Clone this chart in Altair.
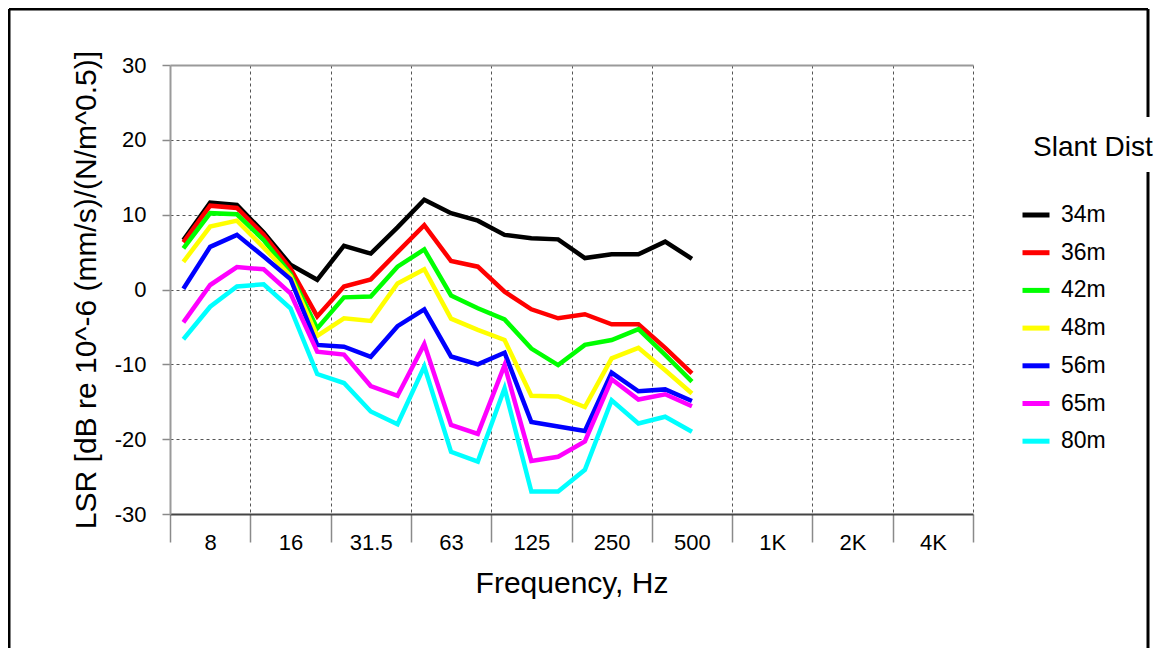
import altair as alt
import pandas as pd

# 1/3-octave band centres (Hz) that carry data
freqs = ["6.3", "8", "10", "12.5", "16", "20", "25", "31.5", "40", "50",
         "63", "80", "100", "125", "160", "200", "250", "315", "400", "500"]
# octave labels shown on the x axis
octave_labels = ["8", "16", "31.5", "63", "125", "250", "500", "1K", "2K", "4K"]

distances = ["34m", "36m", "42m", "48m", "56m", "65m", "80m"]
colors = ["#000000", "#ff0000", "#00ff00", "#ffff00", "#0000ff", "#ff00ff", "#00ffff"]

lsr_34 = [6.6, 11.6, 11.3, 7.6, 3.3, 1.3, 5.85, 4.8, 8.3, 12.0,
          10.2, 9.2, 7.3, 6.85, 6.7, 4.2, 4.7, 4.7, 6.4, 4.1]
lsr_36 = [6.3, 11.2, 10.9, 7.3, 2.8, -3.6, 0.4, 1.35, 5.0, 8.6,
          3.8, 3.05, -0.3, -2.65, -3.85, -3.3, -4.65, -4.65, -7.8, -11.2]
lsr_42 = [5.5, 10.2, 10.05, 6.6, 2.1, -5.2, -1.05, -0.95, 3.05, 5.35,
          -0.8, -2.5, -4.0, -7.9, -10.1, -7.4, -6.75, -5.3, -8.75, -12.3]
lsr_48 = [3.7, 8.4, 9.2, 5.6, 1.8, -6.2, -3.85, -4.2, 0.8, 2.7,
          -3.9, -5.4, -6.75, -14.2, -14.3, -15.7, -9.2, -7.8, -10.8, -13.9]
lsr_56 = [0.1, 5.7, 7.3, 4.4, 1.4, -7.4, -7.65, -9.0, -4.9, -2.65,
          -8.95, -10.0, -8.45, -17.7, -18.3, -18.9, -11.1, -13.6, -13.35, -14.9]
lsr_65 = [-4.4, 0.6, 3.0, 2.7, -0.5, -8.3, -8.7, -12.9, -14.2, -7.3,
          -18.1, -19.3, -10.1, -22.9, -22.35, -20.3, -12.0, -14.7, -14.0, -15.6]
lsr_80 = [-6.65, -2.3, 0.4, 0.7, -2.5, -11.3, -12.5, -16.3, -18.0, -10.3,
          -21.7, -23.0, -13.2, -27.0, -27.0, -24.1, -14.8, -17.9, -17.0, -19.0]

series = dict(zip(distances, [lsr_34, lsr_36, lsr_42, lsr_48, lsr_56, lsr_65, lsr_80]))

rows = []
for d in distances:
    for i, (f, v) in enumerate(zip(freqs, series[d])):
        rows.append({"dist": d, "freq": f, "pos": i + 0.5, "lsr": v})
df = pd.DataFrame(rows)

FONT = "Liberation Sans"
label_arr = "[" + ",".join("'" + l + "'" for l in octave_labels) + "]"
label_expr = "(datum.value % 3 == 1.5) ? " + label_arr + "[floor(datum.value / 3)] : ''"

x_axis = alt.Axis(
    title="Frequency, Hz",
    values=[k * 1.5 for k in range(21)],
    labelExpr=label_expr,
    tickOpacity={"condition": {"test": "datum.value % 3 == 0", "value": 1}, "value": 0},
    gridOpacity={"condition": {"test": "datum.value % 3 == 0 && datum.value > 0", "value": 1}, "value": 0},
    tickSize=28, tickColor="#8a8a8a", tickWidth=1.5,
    domainColor="#444444", domainWidth=2,
    grid=True, gridDash=[3, 3], gridColor="#555555", gridWidth=1,
    labelFontSize=22, labelFont=FONT, labelColor="black", labelPadding=-10,
    labelFlush=False, labelOverlap=False, labelAngle=0,
    titleFontSize=30, titleFont=FONT, titleFontWeight="normal", titleColor="black",
    titlePadding=15,
)

y_axis = alt.Axis(
    title="LSR [dB re 10^-6 (mm/s)/(N/m^0.5)]",
    values=[-30, -20, -10, 0, 10, 20, 30],
    labelExpr="toString(datum.value)",
    tickSize=8, tickColor="#8a8a8a", tickWidth=1.5,
    domainColor="#9a9a9a", domainWidth=2,
    grid=True,
    gridDash={"condition": {"test": "datum.value == 30", "value": []}, "value": [3, 3]},
    gridColor={"condition": {"test": "datum.value == 30", "value": "#9a9a9a"}, "value": "#555555"},
    gridWidth={"condition": {"test": "datum.value == 30", "value": 2}, "value": 1},
    labelFontSize=22, labelFont=FONT, labelColor="black", labelPadding=16,
    titleFontSize=30, titleFont=FONT, titleFontWeight="normal", titleColor="black",
    titlePadding=13,
)

legend = alt.Legend(
    orient="none", legendX=863, legendY=69,
    title="Slant Dist", titleFontSize=28, titleFont=FONT, titleFontWeight="normal",
    titleColor="black", titlePadding=37,
    labelFontSize=23, labelFont=FONT, labelColor="black", labelOffset=9,
    symbolType="stroke", symbolSize=729, symbolStrokeWidth=5, symbolOffset=-13,
    rowPadding=9.7, padding=0,
)

lines = alt.Chart(df).mark_line(strokeWidth=4.5).encode(
    x=alt.X("pos:Q", scale=alt.Scale(domain=[0, 30], nice=False, zero=False), axis=x_axis),
    y=alt.Y("lsr:Q", scale=alt.Scale(domain=[-30, 30], nice=False), axis=y_axis),
    color=alt.Color("dist:N", scale=alt.Scale(domain=distances, range=colors), legend=legend),
    order=alt.Order("pos:Q"),
)

frame_src = alt.Data(values=[{"k": 1}])
frame_left = alt.Chart(frame_src).mark_rule(color="black", strokeWidth=3).encode(
    x=alt.value(-161), y=alt.value(-56), y2=alt.value(600))
frame_top = alt.Chart(frame_src).mark_rule(color="black", strokeWidth=3).encode(
    x=alt.value(-161), x2=alt.value(978), y=alt.value(-56))
frame_right_a = alt.Chart(frame_src).mark_rule(color="black", strokeWidth=3).encode(
    x=alt.value(978), y=alt.value(-56), y2=alt.value(52))
frame_right_b = alt.Chart(frame_src).mark_rule(color="black", strokeWidth=3).encode(
    x=alt.value(978), y=alt.value(107), y2=alt.value(600))

chart = alt.layer(frame_left, frame_top, frame_right_a, frame_right_b, lines).properties(
    width=803, height=449,
    autosize=alt.AutoSizeParams(type="none"),
    padding={"left": 162, "top": 57, "right": 184, "bottom": 134},
    background="white",
).configure_view(stroke=None)

chart.save("out.html", embed_options={"renderer": "svg", "actions": False})
